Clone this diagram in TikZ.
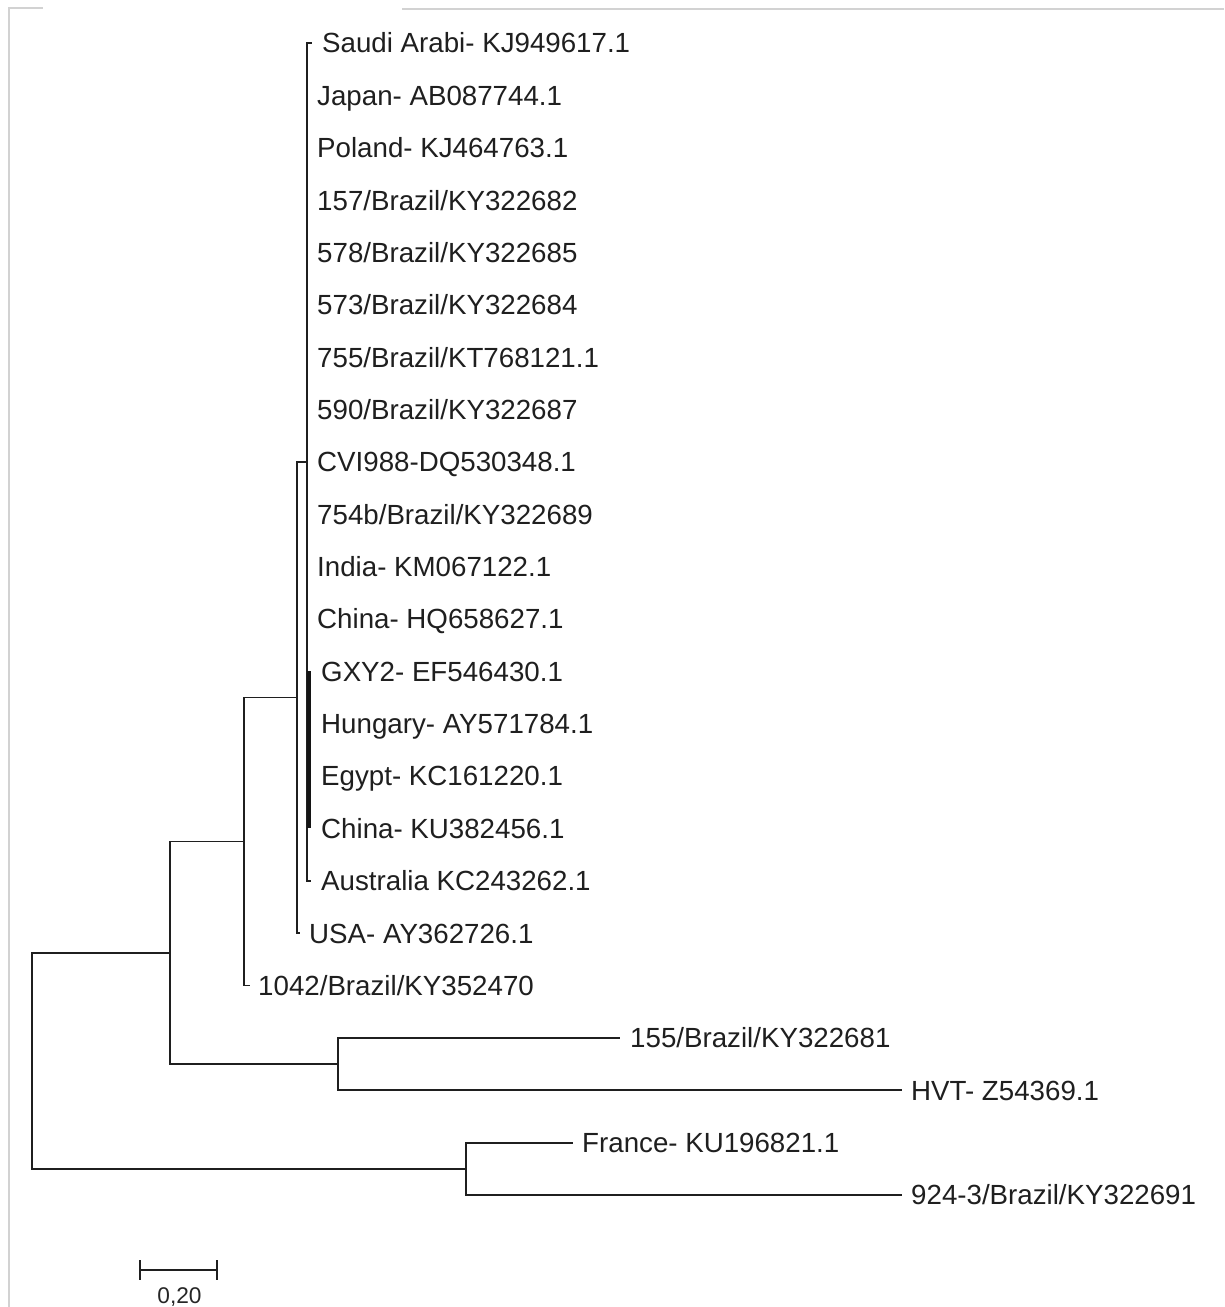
\documentclass[tikz,border=0pt]{standalone}
\usepackage{fontspec}
\setmainfont{Liberation Sans}
\begin{document}
\begin{tikzpicture}[x=1pt,y=-1pt,
  branch/.style={line width=1.9pt, draw=black!88},
  cladebar/.style={line width=3.2pt, draw=black!92},
  taxon/.style={anchor=west, inner sep=0pt, text height=19.8pt, text depth=0pt,
    font=\fontsize{27.7}{30}\selectfont, text=black!88},
  frameline/.style={draw=gray!35, line width=2pt},
]
% page
\fill[white] (0,0) rectangle (1224,1307);
\useasboundingbox (0,0) rectangle (1224,1307);
\draw[frameline] (9,1307) -- (9,8) -- (43,8);
\draw[frameline] (402,9) -- (1224,9);

% leaf tips
\coordinate (t1)  at (312,43.0);
\coordinate (t2)  at (307,95.4);
\coordinate (t3)  at (307,147.7);
\coordinate (t4)  at (307,200.1);
\coordinate (t5)  at (307,252.4);
\coordinate (t6)  at (307,304.8);
\coordinate (t7)  at (307,357.2);
\coordinate (t8)  at (307,409.5);
\coordinate (t9)  at (307,461.9);
\coordinate (t10) at (307,514.2);
\coordinate (t11) at (307,566.6);
\coordinate (t12) at (307,619.0);
\coordinate (t13) at (309,671.3);
\coordinate (t14) at (309,723.7);
\coordinate (t15) at (309,776.0);
\coordinate (t16) at (309,828.4);
\coordinate (t17) at (311,880.8);
\coordinate (t18) at (300,933.1);
\coordinate (t19) at (250,985.5);
\coordinate (t20) at (620,1037.8);
\coordinate (t21) at (902,1090.2);
\coordinate (t22) at (573,1142.6);
\coordinate (t23) at (902,1194.9);

% taxon labels
\node[taxon] (l1)  at (322,43.0)   {Saudi Arabi- KJ949617.1};
\node[taxon] (l2)  at (317,95.4)   {Japan- AB087744.1};
\node[taxon] (l3)  at (317,147.7)  {Poland- KJ464763.1};
\node[taxon] (l4)  at (317,200.1)  {157/Brazil/KY322682};
\node[taxon] (l5)  at (317,252.4)  {578/Brazil/KY322685};
\node[taxon] (l6)  at (317,304.8)  {573/Brazil/KY322684};
\node[taxon] (l7)  at (317,357.2)  {755/Brazil/KT768121.1};
\node[taxon] (l8)  at (317,409.5)  {590/Brazil/KY322687};
\node[taxon] (l9)  at (317,461.9)  {CVI988-DQ530348.1};
\node[taxon] (l10) at (317,514.2)  {754b/Brazil/KY322689};
\node[taxon] (l11) at (317,566.6)  {India- KM067122.1};
\node[taxon] (l12) at (317,619.0)  {China- HQ658627.1};
\node[taxon] (l13) at (321,671.3)  {GXY2- EF546430.1};
\node[taxon] (l14) at (321,723.7)  {Hungary- AY571784.1};
\node[taxon] (l15) at (321,776.0)  {Egypt- KC161220.1};
\node[taxon] (l16) at (321,828.4)  {China- KU382456.1};
\node[taxon] (l17) at (321,880.8)  {Australia KC243262.1};
\node[taxon] (l18) at (309,933.1)  {USA- AY362726.1};
\node[taxon] (l19) at (258,985.5)  {1042/Brazil/KY352470};
\node[taxon] (l20) at (630,1037.8) {155/Brazil/KY322681};
\node[taxon] (l21) at (911,1090.2) {HVT- Z54369.1};
\node[taxon] (l22) at (582,1142.6) {France- KU196821.1};
\node[taxon] (l23) at (911,1194.9) {924-3/Brazil/KY322691};

% internal nodes
\coordinate (c1)   at (307,461.9);
\coordinate (sc)   at (309,749.9);
\coordinate (c2)   at (297,697.5);
\coordinate (c3)   at (244,841.5);
\coordinate (c4)   at (170,952.75);
\coordinate (c5)   at (338,1064.0);
\coordinate (c6)   at (466,1168.75);
\coordinate (root) at (32,1060.75);

% branches
\foreach \k in {1,...,12,17} \draw[branch] (c1) |- (t\k);
\draw[branch] (c1) |- (sc);
\draw[cladebar] (sc) |- (t13);
\draw[cladebar] (sc) |- (t16);
\draw[branch] (c2) |- (c1);
\draw[branch] (c2) |- (t18);
\draw[branch] (c3) |- (c2);
\draw[branch] (c3) |- (t19);
\draw[branch] (c4) |- (c3);
\draw[branch] (c4) |- (c5);
\draw[branch] (c5) |- (t20);
\draw[branch] (c5) |- (t21);
\draw[branch] (c6) |- (t22);
\draw[branch] (c6) |- (t23);
\draw[branch] (root) |- (c4);
\draw[branch] (root) |- (c6);

% scale bar
\coordinate (s0) at (140,1270);
\coordinate (s1) at (217,1270);
\draw[branch] (s0) -- (s1);
\draw[branch] ([yshift=-9.5pt]s0) -- ([yshift=10pt]s0);
\draw[branch] ([yshift=-9.5pt]s1) -- ([yshift=10pt]s1);
\node[inner sep=0pt, text height=16.2pt, text depth=0pt,
  font=\fontsize{22.7}{25}\selectfont, text=black!85] (scalelabel) at (179.5,1295) {0,20};
\end{tikzpicture}
\end{document}
